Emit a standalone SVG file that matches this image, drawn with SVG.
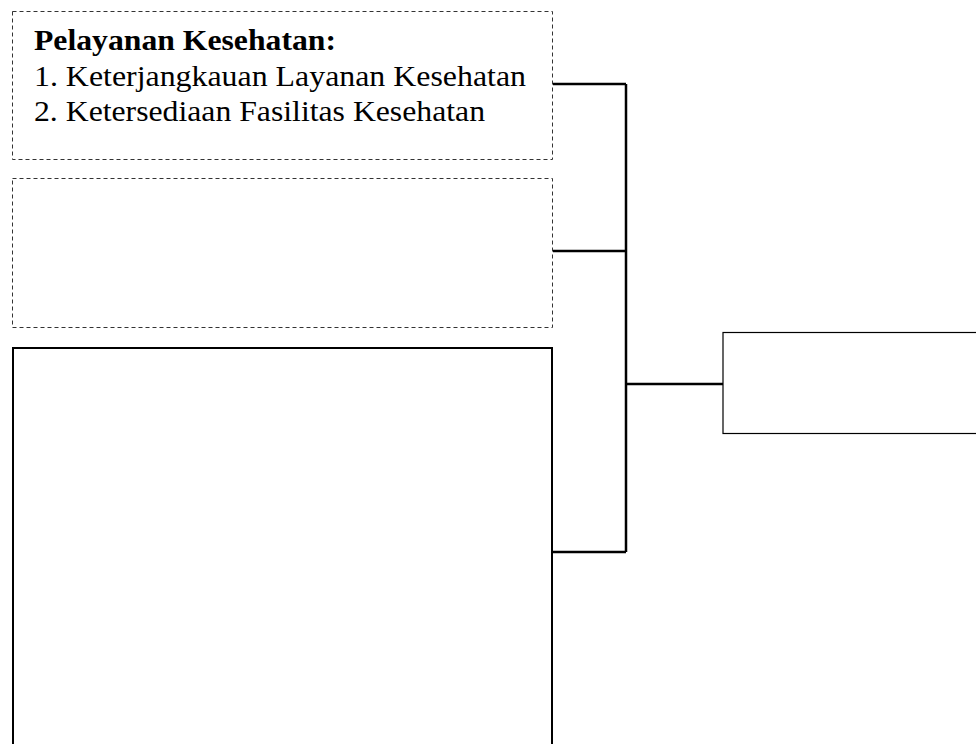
<svg xmlns="http://www.w3.org/2000/svg" width="976" height="744" viewBox="0 0 976 744">
<style>
.dash{fill:#fff;stroke:#333;stroke-width:1;stroke-dasharray:4 3}
.solid{fill:#fff;stroke:#000;stroke-width:2}
.thin{fill:#fff;stroke:#000;stroke-width:1.2}
.conn{fill:none;stroke:#000;stroke-width:2.5}
text{font-family:"Liberation Serif","Times New Roman",serif;font-size:29px;fill:#000}
.b{font-weight:bold}
</style>
<rect width="976" height="744" fill="#fff"/>
<g id="connectors">
<path class="conn" d="M553 84H626M553 251H626M553 552H626M626 84V552M626 384H723"/>
</g>
<g id="pelayanan">
<rect class="dash" x="12.5" y="11.5" width="540" height="148"/>
<text class="b" x="34" y="50" textLength="302" lengthAdjust="spacingAndGlyphs">Pelayanan Kesehatan:</text>
<text x="34" y="86" textLength="492" lengthAdjust="spacingAndGlyphs">1. Keterjangkauan Layanan Kesehatan</text>
<text x="34" y="121" textLength="451" lengthAdjust="spacingAndGlyphs">2. Ketersediaan Fasilitas Kesehatan</text>
</g>
<g id="box2">
<rect class="dash" x="12.5" y="178.5" width="540" height="149"/>
</g>
<g id="box3">
<rect class="solid" x="13" y="348" width="539" height="410"/>
</g>
<g id="target">
<rect class="thin" x="723" y="332.5" width="270" height="101"/>
</g>
</svg>
